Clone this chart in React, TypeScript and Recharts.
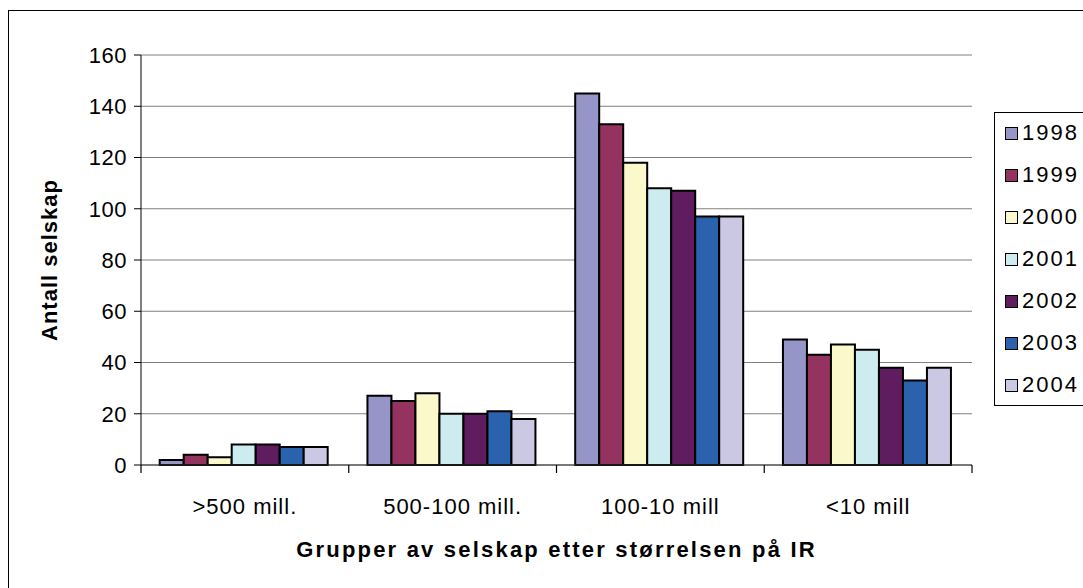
import React from "react";
import {
  BarChart,
  Bar,
  XAxis,
  YAxis,
  CartesianGrid,
} from "recharts";

const categories = [">500 mill.", "500-100 mill.", "100-10 mill", "<10 mill"];
const years = ["1998", "1999", "2000", "2001", "2002", "2003", "2004"];
const v1998 = [2, 27, 145, 49];
const v1999 = [4, 25, 133, 43];
const v2000 = [3, 28, 118, 47];
const v2001 = [8, 20, 108, 45];
const v2002 = [8, 20, 107, 38];
const v2003 = [7, 21, 97, 33];
const v2004 = [7, 18, 97, 38];
const yTicks = [0, 20, 40, 60, 80, 100, 120, 140, 160];

const colors = ["#9595c8", "#953360", "#fbf8cc", "#cdecf0", "#5f1d5f", "#2a62ad", "#cbc8e4"];
const series = [v1998, v1999, v2000, v2001, v2002, v2003, v2004];

const data = categories.map((c, i) => {
  const row: Record<string, string | number> = { name: c };
  years.forEach((y, k) => {
    row[y] = series[k][i];
  });
  return row;
});

const FONT = '"Liberation Sans", Arial, sans-serif';

function YTitle(props: any) {
  const vb = props.viewBox || { x: 61, y: 55, width: 80, height: 410 };
  const cx = vb.x - 12;
  const cy = vb.y + vb.height / 2;
  return (
    <text
      x={cx}
      y={cy}
      transform={`rotate(-90, ${cx}, ${cy})`}
      textAnchor="middle"
      dominantBaseline="central"
      fontFamily={FONT}
      fontWeight="bold"
      fontSize={22}
      letterSpacing={1}
      fill="#000"
    >
      Antall selskap
    </text>
  );
}

function XTitle(props: any) {
  const vb = props.viewBox || { x: 141, y: 465, width: 831, height: 60 };
  const cx = vb.x + vb.width / 2;
  return (
    <text
      x={cx}
      y={549}
      textAnchor="middle"
      dominantBaseline="central"
      fontFamily={FONT}
      fontWeight="bold"
      fontSize={22}
      letterSpacing={2.2}
      fill="#000"
    >
      Grupper av selskap etter størrelsen på IR
    </text>
  );
}

// category label plus Excel-style tick marks on the category boundaries
function CatTick(props: any) {
  const { x, y, payload, index } = props;
  const half = payload && payload.offset ? payload.offset : 104;
  const last = index === categories.length - 1;
  return (
    <g>
      <line x1={x - half} x2={x - half} y1={y} y2={y + 8} stroke="#000" strokeWidth={1.2} />
      {last && <line x1={x + half} x2={x + half} y1={y} y2={y + 8} stroke="#000" strokeWidth={1.2} />}
      <text
        x={x}
        y={y + 41}
        textAnchor="middle"
        dominantBaseline="central"
        fontFamily={FONT}
        fontSize={22}
        letterSpacing={1}
        fill="#000"
      >
        {payload.value}
      </text>
    </g>
  );
}

export default function App() {
  return (
    <div style={{ position: "relative", width: 1083, height: 588, overflow: "hidden", background: "#fff" }}>
      <style>{`body{margin:0;overflow:hidden}`}</style>
      <div
        style={{
          position: "absolute",
          left: 8,
          top: 10,
          width: 1200,
          height: 700,
          borderTop: "1px solid #000",
          borderLeft: "1px solid #000",
        }}
      />
      <div
        style={{
          position: "absolute",
          left: 994,
          top: 112,
          width: 140,
          height: 292,
          border: "1px solid #000",
          fontFamily: FONT,
          fontSize: 22,
          letterSpacing: 2,
          background: "#fff",
        }}
      >
        {years.map((y, k) => (
          <div
            key={y}
            style={{ position: "absolute", left: 10, top: 7 + k * 42, height: 26, display: "flex", alignItems: "center" }}
          >
            <span
              style={{
                display: "inline-block",
                width: 11,
                height: 11,
                border: "1.5px solid #000",
                background: colors[k],
                marginRight: 4,
              }}
            />
            <span>{y}</span>
          </div>
        ))}
      </div>
      <div style={{ position: "absolute", left: 0, top: 0 }}>
        <BarChart
          width={1083}
          height={588}
          data={data}
          margin={{ top: 55, right: 111, left: 61, bottom: 63 }}
          barGap={0}
          barCategoryGap="9%"
        >
          <CartesianGrid vertical={false} stroke="#808080" xAxisId="cat" yAxisId="l" />
          <XAxis
            xAxisId="cat"
            dataKey="name"
            height={60}
            axisLine={{ stroke: "#333" }}
            tickLine={false}
            tickSize={0}
            tickMargin={0}
            tick={<CatTick />}
            interval={0}
            label={<XTitle />}
          />
          <YAxis
            yAxisId="l"
            domain={[0, 160]}
            ticks={yTicks}
            width={80}
            axisLine={{ stroke: "#000" }}
            tickLine={{ stroke: "#000" }}
            tickSize={7}
            tickMargin={7}
            tick={{ fill: "#000", fontSize: 22, fontFamily: FONT, letterSpacing: 0.5 }}
            label={<YTitle />}
          />
          <YAxis
            yAxisId="r"
            orientation="right"
            domain={[0, 160]}
            width={0}
            tick={false}
            tickLine={false}
            axisLine={{ stroke: "#808080" }}
          />
          {years.map((y, k) => (
            <Bar
              key={y}
              dataKey={y}
              xAxisId="cat"
              yAxisId="l"
              fill={colors[k]}
              stroke="#000"
              strokeWidth={2}
              isAnimationActive={false}
            />
          ))}
        </BarChart>
      </div>
    </div>
  );
}
